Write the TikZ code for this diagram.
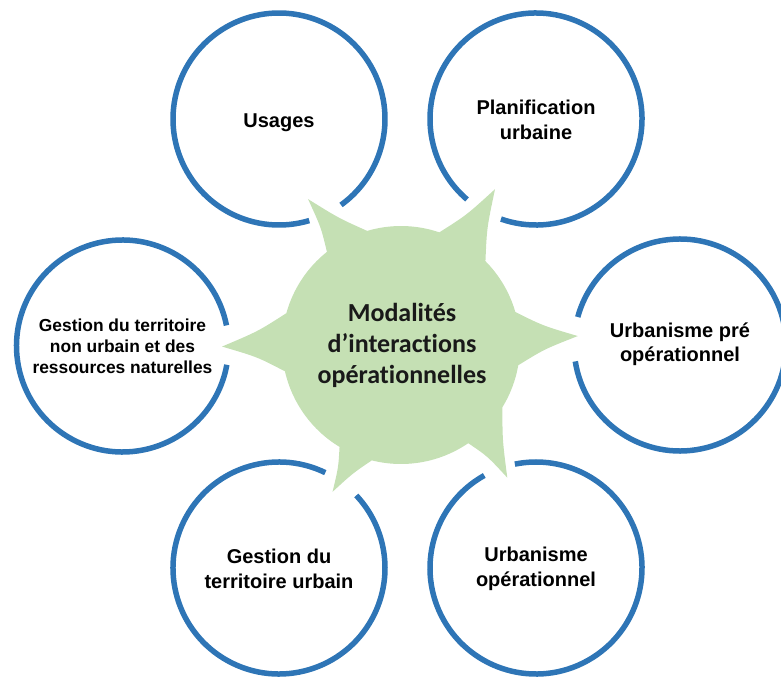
\documentclass[tikz,border=0pt]{standalone}
\usepackage{fontspec}
\setmainfont{Liberation Sans}
\newfontfamily\hubfont[Ligatures=CommonOff]{Carlito}
\usetikzlibrary{calc}
\definecolor{ringblue}{HTML}{2E75B6}
\definecolor{hubgreen}{HTML}{C5E0B4}
\begin{document}
\begin{tikzpicture}[x=1pt,y=1pt,
  ring/.style={draw=ringblue, line width=5.5pt},
  lbl/.style={font=\fontsize{20}{24.5}\selectfont\bfseries, align=center, text=black},
  smalllbl/.style={font=\fontsize{17.4}{21}\selectfont\bfseries, align=center, text=black},
  hubtxt/.style={font=\hubfont\fontsize{26}{31}\selectfont\bfseries, align=center, text=black!90}]
\useasboundingbox (0,0) rectangle (781,678);

% centres of the outer rings
\coordinate (cU)  at (279,559);
\coordinate (cP)  at (536,559);
\coordinate (cR)  at (680,333);
\coordinate (cL)  at (122.5,332);
\coordinate (cGU) at (279,110);
\coordinate (cUO) at (536,110);
\coordinate (H)   at (401,333);

% outer rings with their gaps
\draw[ring] ($(cU)+(-54.2:106)$)  arc[start angle=-54.2, end angle=286.6, radius=106];
\draw[ring] ($(cP)+(-109.3:106)$) arc[start angle=-109.3, end angle=229.4, radius=106];
\draw[ring] ($(cR)+(188.9:106)$)  arc[start angle=188.9, end angle=524.7, radius=106];
\draw[ring] ($(cL)+(11.2:106)$)   arc[start angle=11.2, end angle=349.8, radius=106];
\draw[ring] ($(cGU)+(64.1:106)$)  arc[start angle=64.1, end angle=403.2, radius=106];
\draw[ring] ($(cUO)+(119.2:106)$) arc[start angle=119.2, end angle=461.5, radius=106];

% spike points of the hub
\coordinate (rA)  at ($(H)+(-9.8:119)$);
\coordinate (rT)  at ($(H)+(2.9:177)$);
\coordinate (rB)  at ($(H)+(16.1:119)$);
\coordinate (urA) at ($(H)+(44.8:119)$);
\coordinate (urT) at ($(H)+(58.9:182)$);
\coordinate (urB) at ($(H)+(71.2:119)$);
\coordinate (ulA) at ($(H)+(106.5:119)$);
\coordinate (ulT) at ($(H)+(122.5:173)$);
\coordinate (ulB) at ($(H)+(128.5:119)$);
\coordinate (lA)  at ($(H)+(164.5:119)$);
\coordinate (lT)  at ($(H)+(180.5:179)$);
\coordinate (lB)  at ($(H)+(192.8:119)$);
\coordinate (llA) at ($(H)+(238.9:119)$);
\coordinate (llT) at ($(H)+(245:162)$);
\coordinate (llB) at ($(H)+(255.8:119)$);
\coordinate (lrA) at ($(H)+(304.4:119)$);
\coordinate (lrT) at ($(H)+(308.7:170)$);
\coordinate (lrB) at ($(H)+(328.4:119)$);
\foreach \s in {r,ur,ul,l,ll,lr}{\coordinate (\s M) at ($(\s A)!0.5!(\s B)$);}

\fill[hubgreen]
  (rA) .. controls ($(rA)!0.5!(rT)!0.12!(rM)$) .. (rT)
       .. controls ($(rT)!0.5!(rB)!0.12!(rM)$) .. (rB)
  arc[start angle=16.1, end angle=44.8, radius=119]
       .. controls ($(urA)!0.5!(urT)!0.12!(urM)$) .. (urT)
       .. controls ($(urT)!0.5!(urB)!0.12!(urM)$) .. (urB)
  arc[start angle=71.2, end angle=106.5, radius=119]
       .. controls ($(ulA)!0.5!(ulT)!0.12!(ulM)$) .. (ulT)
       .. controls ($(ulT)!0.5!(ulB)!0.12!(ulM)$) .. (ulB)
  arc[start angle=128.5, end angle=164.5, radius=119]
       .. controls ($(lA)!0.5!(lT)!0.12!(lM)$) .. (lT)
       .. controls ($(lT)!0.5!(lB)!0.12!(lM)$) .. (lB)
  arc[start angle=192.8, end angle=238.9, radius=119]
       .. controls ($(llA)!0.5!(llT)!0.12!(llM)$) .. (llT)
       .. controls ($(llT)!0.5!(llB)!0.12!(llM)$) .. (llB)
  arc[start angle=255.8, end angle=304.4, radius=119]
       .. controls ($(lrA)!0.5!(lrT)!0.12!(lrM)$) .. (lrT)
       .. controls ($(lrT)!0.5!(lrB)!0.12!(lrM)$) .. (lrB)
  arc[start angle=328.4, end angle=350.2, radius=119] -- cycle;

% labels
\node[hubtxt] (hub) at (402,333) {Modalités\\d’interactions\\opérationnelles};
\node[lbl] (usages) at (279,555) {Usages};
\node[lbl] (plan) at (536,558) {Planification\\urbaine};
\node[lbl] (urbpre) at (680,334) {Urbanisme pré\\opérationnel};
\node[smalllbl] (gestnu) at (122.5,332) {Gestion du territoire\\non urbain et des\\ressources naturelles};
\node[lbl] (gestu) at (279,109) {Gestion du\\territoire urbain};
\node[lbl] (urbop) at (536,109) {Urbanisme\\opérationnel};
\end{tikzpicture}
\end{document}
